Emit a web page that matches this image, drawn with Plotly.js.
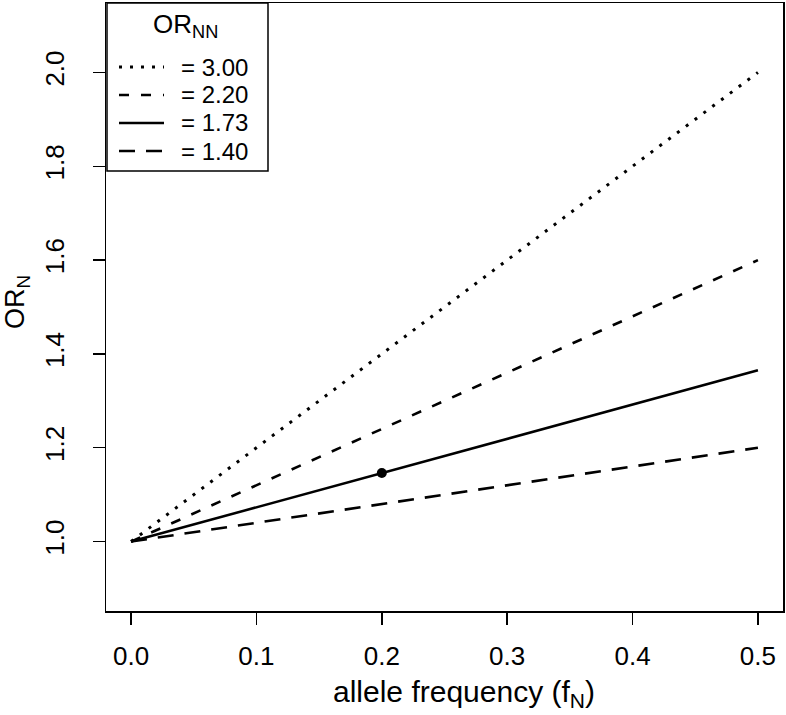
<!DOCTYPE html>
<html>
<head>
<meta charset="utf-8">
<script src="https://cdn.plot.ly/plotly-3.0.1.min.js"></script>
<style>html,body{margin:0;padding:0;background:#fff}#chart{width:786px;height:715px}</style>
</head>
<body>
<div id="chart"></div>
<script>
// Data
const freq = [0.0, 0.5];                 // allele frequency endpoints
const orNNLabels = ["= 3.00", "= 2.20", "= 1.73", "= 1.40"];
const orN_300 = [1.0, 2.0];
const orN_220 = [1.0, 1.6];
const orN_173 = [1.0, 1.365];
const orN_140 = [1.0, 1.2];
const pointX = [0.2];
const pointY = [1.146];
const xTicks = [0, 0.1, 0.2, 0.3, 0.4, 0.5];
const xTickText = ["0.0", "0.1", "0.2", "0.3", "0.4", "0.5"];
const yTicks = [1.0, 1.2, 1.4, 1.6, 1.8, 2.0];
const yTickText = ["1.0", "1.2", "1.4", "1.6", "1.8", "2.0"];

const series = [orN_300, orN_220, orN_173, orN_140];
const dashes = ["3px,8px", "10px,12px", "solid", "16px,11px"];
const widths = [3, 2.6, 2.6, 2.6];

const FONT = "Liberation Sans, Arial, Helvetica, sans-serif";
const W = 786, H = 715;
const M = {l: 106, r: 3, t: 3, b: 104};
const PW = W - M.l - M.r, PH = H - M.t - M.b;
const px = v => (v - M.l) / PW;          // pixel -> paper x
const py = v => (H - M.b - v) / PH;      // pixel -> paper y

const traces = series.map((ys, i) => ({
  x: freq, y: ys, type: "scatter", mode: "lines",
  name: orNNLabels[i],
  line: {color: "black", width: widths[i], dash: dashes[i]},
  hoverinfo: "skip", showlegend: false
}));
traces.push({
  x: pointX, y: pointY, type: "scatter", mode: "markers",
  marker: {color: "black", size: 10}, showlegend: false
});

// Hand-built legend box (R style)
const shapes = [{
  type: "rect", xref: "paper", yref: "paper",
  x0: px(107), x1: px(268), y0: py(171), y1: py(3),
  line: {color: "black", width: 1.5}, fillcolor: "white", layer: "above"
}];
const annotations = [{
  xref: "paper", yref: "paper", x: px(185), y: py(25),
  xanchor: "center", yanchor: "middle", showarrow: false,
  text: "OR<sub>NN</sub>", font: {family: FONT, size: 26, color: "black"}
}];
const entryY = [67, 95, 123, 151];
orNNLabels.forEach((lab, i) => {
  shapes.push({
    type: "line", xref: "paper", yref: "paper",
    x0: px(119), x1: px(164), y0: py(entryY[i]), y1: py(entryY[i]),
    line: {color: "black", width: widths[i], dash: dashes[i]}, layer: "above"
  });
  annotations.push({
    xref: "paper", yref: "paper", x: px(179), y: py(entryY[i]),
    xanchor: "left", yanchor: "middle", showarrow: false,
    text: lab, font: {family: FONT, size: 24, color: "black"}
  });
});
// Axis titles
annotations.push({
  xref: "paper", yref: "paper", x: px(464), y: py(693),
  xanchor: "center", yanchor: "middle", showarrow: false,
  text: "allele frequency (f<sub>N</sub>)", font: {family: FONT, size: 30, color: "black"}
});
annotations.push({
  xref: "paper", yref: "paper", x: px(17), y: py(302),
  xanchor: "center", yanchor: "middle", showarrow: false, textangle: -90,
  text: "OR<sub>N</sub>", font: {family: FONT, size: 27, color: "black"}
});

const layout = {
  width: W, height: H,
  margin: M,
  paper_bgcolor: "white", plot_bgcolor: "white",
  font: {family: FONT, color: "black", size: 24},
  showlegend: false,
  shapes: shapes, annotations: annotations,
  xaxis: {
    range: [-0.02, 0.52], tickvals: xTicks, ticktext: xTickText,
    ticks: "outside", ticklen: 12, tickwidth: 1.5, tickcolor: "black",
    showline: true, linecolor: "black", linewidth: 1.5, mirror: true,
    showgrid: false, zeroline: false, ticklabelstandoff: 9,
    tickfont: {family: FONT, size: 26}
  },
  yaxis: {
    range: [0.852, 2.148], tickvals: yTicks, ticktext: yTickText,
    ticks: "outside", ticklen: 12, tickwidth: 1.5, tickcolor: "black",
    showline: true, linecolor: "black", linewidth: 1.5, mirror: true,
    showgrid: false, zeroline: false, tickangle: -90, ticklabelstandoff: 18,
    tickfont: {family: FONT, size: 26}
  }
};

Plotly.newPlot("chart", traces, layout, {displayModeBar: false, staticPlot: true});
</script>
</body>
</html>
